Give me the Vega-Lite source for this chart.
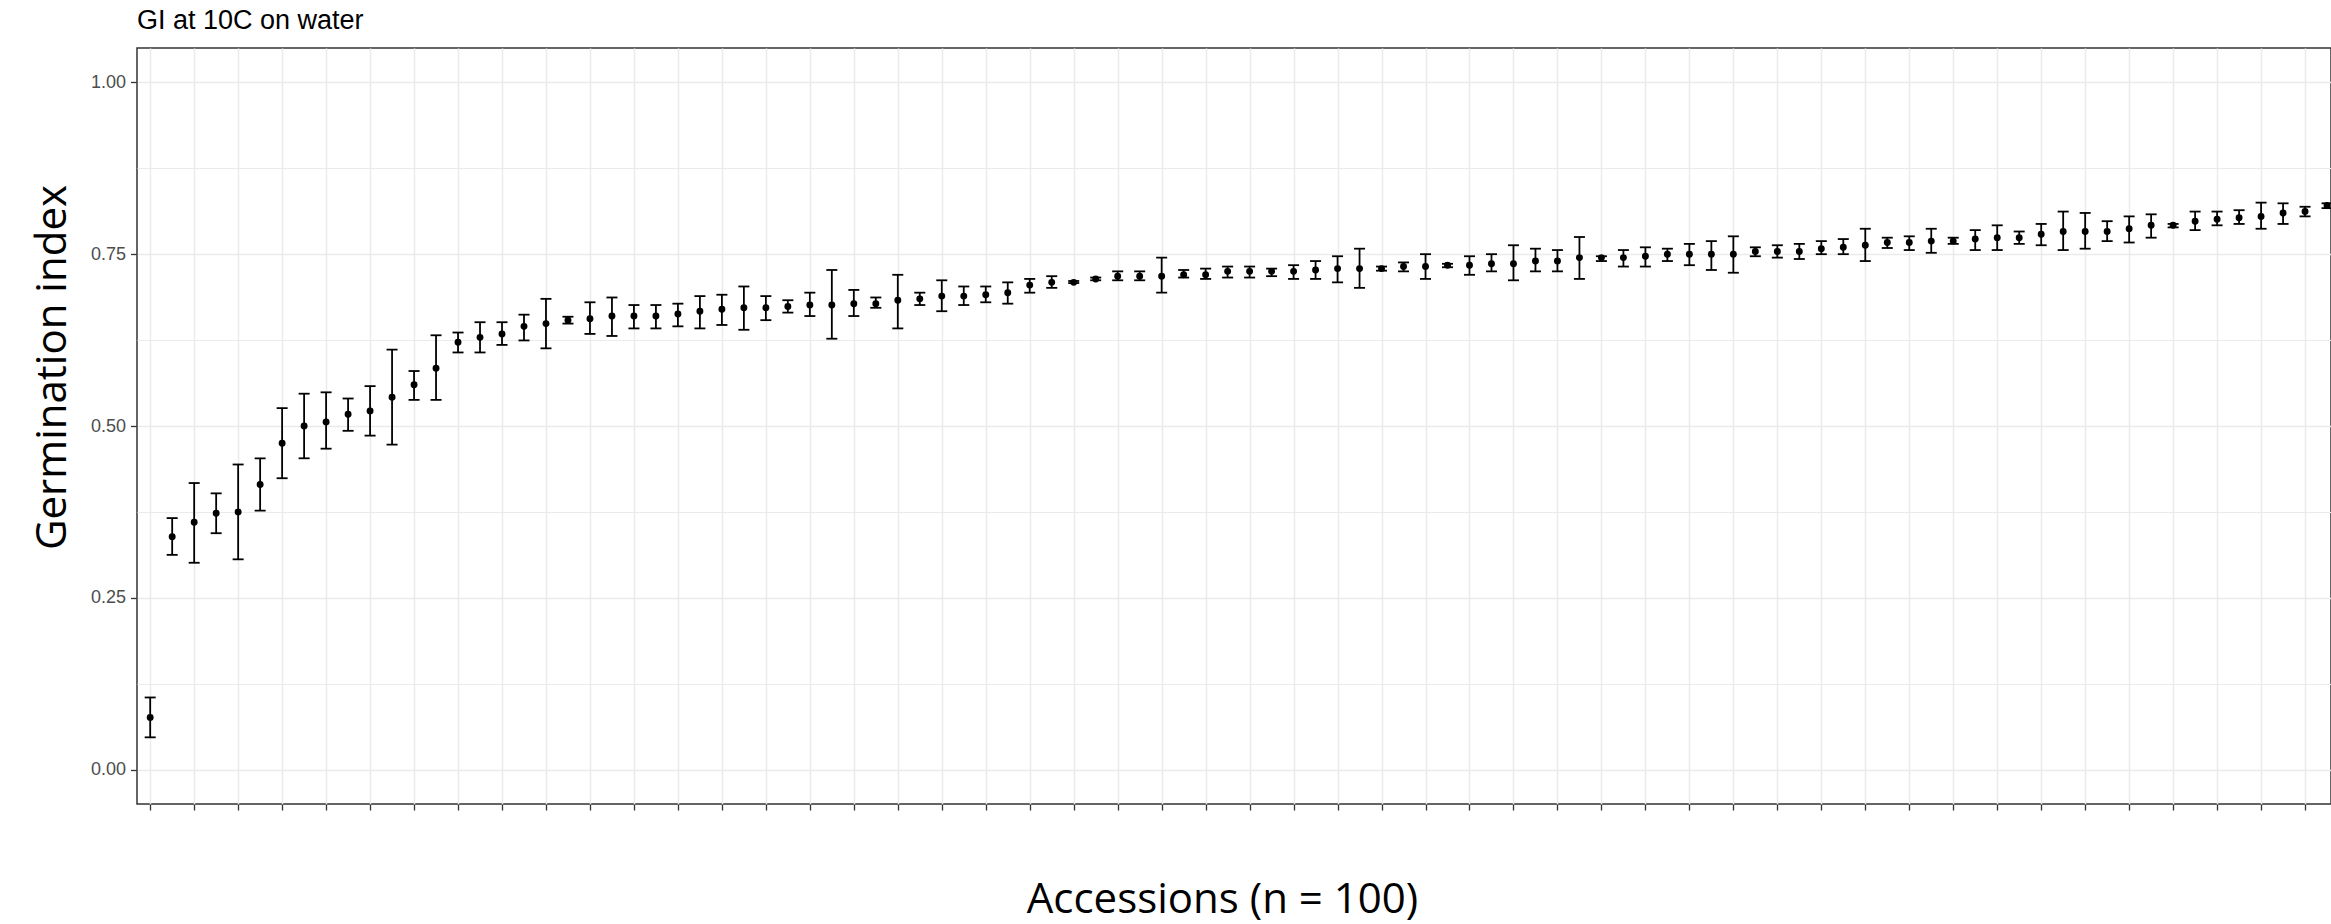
{
  "$schema": "https://vega.github.io/schema/vega-lite/v6.json",
  "width": 2194,
  "height": 756,
  "autosize": {"type": "none"},
  "padding": {"left": 137, "top": 48, "right": 0, "bottom": 120},
  "background": "white",
  "title": {"text": "GI at 10C on water", "anchor": "start", "frame": "group", "font": "Liberation Sans", "fontSize": 27, "fontWeight": "normal", "color": "#000000", "offset": 13},
  "config": {"view": {"stroke": "#333333", "strokeWidth": 1.5}},
  "data": {"values": [
    {"rank": 1, "gi": 0.076, "lo": 0.047, "hi": 0.105},
    {"rank": 2, "gi": 0.339, "lo": 0.3125, "hi": 0.366},
    {"rank": 3, "gi": 0.360, "lo": 0.301, "hi": 0.417},
    {"rank": 4, "gi": 0.373, "lo": 0.344, "hi": 0.402},
    {"rank": 5, "gi": 0.375, "lo": 0.306, "hi": 0.444},
    {"rank": 6, "gi": 0.415, "lo": 0.377, "hi": 0.453},
    {"rank": 7, "gi": 0.475, "lo": 0.424, "hi": 0.526},
    {"rank": 8, "gi": 0.500, "lo": 0.453, "hi": 0.547},
    {"rank": 9, "gi": 0.506, "lo": 0.467, "hi": 0.549},
    {"rank": 10, "gi": 0.517, "lo": 0.493, "hi": 0.540},
    {"rank": 11, "gi": 0.522, "lo": 0.486, "hi": 0.558},
    {"rank": 12, "gi": 0.542, "lo": 0.473, "hi": 0.611},
    {"rank": 13, "gi": 0.560, "lo": 0.538, "hi": 0.580},
    {"rank": 14, "gi": 0.584, "lo": 0.538, "hi": 0.632},
    {"rank": 15, "gi": 0.622, "lo": 0.607, "hi": 0.636},
    {"rank": 16, "gi": 0.629, "lo": 0.607, "hi": 0.651},
    {"rank": 17, "gi": 0.634, "lo": 0.618, "hi": 0.651},
    {"rank": 18, "gi": 0.645, "lo": 0.6245, "hi": 0.662},
    {"rank": 19, "gi": 0.649, "lo": 0.613, "hi": 0.685},
    {"rank": 20, "gi": 0.654, "lo": 0.649, "hi": 0.659},
    {"rank": 21, "gi": 0.656, "lo": 0.634, "hi": 0.680},
    {"rank": 22, "gi": 0.660, "lo": 0.631, "hi": 0.687},
    {"rank": 23, "gi": 0.660, "lo": 0.642, "hi": 0.676},
    {"rank": 24, "gi": 0.660, "lo": 0.642, "hi": 0.676},
    {"rank": 25, "gi": 0.663, "lo": 0.645, "hi": 0.678},
    {"rank": 26, "gi": 0.667, "lo": 0.642, "hi": 0.689},
    {"rank": 27, "gi": 0.670, "lo": 0.647, "hi": 0.691},
    {"rank": 28, "gi": 0.672, "lo": 0.640, "hi": 0.703},
    {"rank": 29, "gi": 0.672, "lo": 0.654, "hi": 0.689},
    {"rank": 30, "gi": 0.674, "lo": 0.665, "hi": 0.683},
    {"rank": 31, "gi": 0.676, "lo": 0.660, "hi": 0.694},
    {"rank": 32, "gi": 0.676, "lo": 0.627, "hi": 0.727},
    {"rank": 33, "gi": 0.678, "lo": 0.660, "hi": 0.698},
    {"rank": 34, "gi": 0.678, "lo": 0.672, "hi": 0.687},
    {"rank": 35, "gi": 0.683, "lo": 0.642, "hi": 0.720},
    {"rank": 36, "gi": 0.685, "lo": 0.676, "hi": 0.694},
    {"rank": 37, "gi": 0.689, "lo": 0.667, "hi": 0.712},
    {"rank": 38, "gi": 0.689, "lo": 0.676, "hi": 0.703},
    {"rank": 39, "gi": 0.691, "lo": 0.680, "hi": 0.703},
    {"rank": 40, "gi": 0.694, "lo": 0.678, "hi": 0.709},
    {"rank": 41, "gi": 0.705, "lo": 0.694, "hi": 0.714},
    {"rank": 42, "gi": 0.709, "lo": 0.701, "hi": 0.718},
    {"rank": 43, "gi": 0.709, "lo": 0.708, "hi": 0.711},
    {"rank": 44, "gi": 0.714, "lo": 0.712, "hi": 0.716},
    {"rank": 45, "gi": 0.718, "lo": 0.712, "hi": 0.725},
    {"rank": 46, "gi": 0.718, "lo": 0.712, "hi": 0.725},
    {"rank": 47, "gi": 0.718, "lo": 0.694, "hi": 0.745},
    {"rank": 48, "gi": 0.720, "lo": 0.716, "hi": 0.727},
    {"rank": 49, "gi": 0.720, "lo": 0.714, "hi": 0.729},
    {"rank": 50, "gi": 0.725, "lo": 0.716, "hi": 0.732},
    {"rank": 51, "gi": 0.725, "lo": 0.716, "hi": 0.732},
    {"rank": 52, "gi": 0.725, "lo": 0.718, "hi": 0.729},
    {"rank": 53, "gi": 0.725, "lo": 0.714, "hi": 0.734},
    {"rank": 54, "gi": 0.727, "lo": 0.714, "hi": 0.740},
    {"rank": 55, "gi": 0.729, "lo": 0.709, "hi": 0.747},
    {"rank": 56, "gi": 0.729, "lo": 0.701, "hi": 0.758},
    {"rank": 57, "gi": 0.729, "lo": 0.726, "hi": 0.732},
    {"rank": 58, "gi": 0.732, "lo": 0.725, "hi": 0.738},
    {"rank": 59, "gi": 0.732, "lo": 0.714, "hi": 0.750},
    {"rank": 60, "gi": 0.734, "lo": 0.731, "hi": 0.736},
    {"rank": 61, "gi": 0.734, "lo": 0.720, "hi": 0.747},
    {"rank": 62, "gi": 0.736, "lo": 0.725, "hi": 0.750},
    {"rank": 63, "gi": 0.736, "lo": 0.712, "hi": 0.763},
    {"rank": 64, "gi": 0.740, "lo": 0.725, "hi": 0.758},
    {"rank": 65, "gi": 0.740, "lo": 0.725, "hi": 0.756},
    {"rank": 66, "gi": 0.745, "lo": 0.714, "hi": 0.775},
    {"rank": 67, "gi": 0.745, "lo": 0.740, "hi": 0.747},
    {"rank": 68, "gi": 0.745, "lo": 0.732, "hi": 0.756},
    {"rank": 69, "gi": 0.747, "lo": 0.732, "hi": 0.760},
    {"rank": 70, "gi": 0.750, "lo": 0.740, "hi": 0.758},
    {"rank": 71, "gi": 0.750, "lo": 0.734, "hi": 0.765},
    {"rank": 72, "gi": 0.750, "lo": 0.727, "hi": 0.769},
    {"rank": 73, "gi": 0.750, "lo": 0.723, "hi": 0.776},
    {"rank": 74, "gi": 0.754, "lo": 0.747, "hi": 0.760},
    {"rank": 75, "gi": 0.754, "lo": 0.745, "hi": 0.763},
    {"rank": 76, "gi": 0.754, "lo": 0.743, "hi": 0.765},
    {"rank": 77, "gi": 0.758, "lo": 0.750, "hi": 0.769},
    {"rank": 78, "gi": 0.760, "lo": 0.750, "hi": 0.772},
    {"rank": 79, "gi": 0.763, "lo": 0.740, "hi": 0.787},
    {"rank": 80, "gi": 0.767, "lo": 0.759, "hi": 0.774},
    {"rank": 81, "gi": 0.767, "lo": 0.756, "hi": 0.776},
    {"rank": 82, "gi": 0.769, "lo": 0.752, "hi": 0.787},
    {"rank": 83, "gi": 0.769, "lo": 0.765, "hi": 0.774},
    {"rank": 84, "gi": 0.772, "lo": 0.756, "hi": 0.785},
    {"rank": 85, "gi": 0.774, "lo": 0.756, "hi": 0.792},
    {"rank": 86, "gi": 0.774, "lo": 0.765, "hi": 0.783},
    {"rank": 87, "gi": 0.779, "lo": 0.763, "hi": 0.794},
    {"rank": 88, "gi": 0.783, "lo": 0.756, "hi": 0.812},
    {"rank": 89, "gi": 0.783, "lo": 0.758, "hi": 0.810},
    {"rank": 90, "gi": 0.783, "lo": 0.769, "hi": 0.798},
    {"rank": 91, "gi": 0.787, "lo": 0.767, "hi": 0.805},
    {"rank": 92, "gi": 0.792, "lo": 0.774, "hi": 0.808},
    {"rank": 93, "gi": 0.792, "lo": 0.789, "hi": 0.794},
    {"rank": 94, "gi": 0.798, "lo": 0.785, "hi": 0.812},
    {"rank": 95, "gi": 0.801, "lo": 0.792, "hi": 0.812},
    {"rank": 96, "gi": 0.803, "lo": 0.794, "hi": 0.814},
    {"rank": 97, "gi": 0.805, "lo": 0.787, "hi": 0.825},
    {"rank": 98, "gi": 0.810, "lo": 0.794, "hi": 0.824},
    {"rank": 99, "gi": 0.812, "lo": 0.805, "hi": 0.819},
    {"rank": 100, "gi": 0.821, "lo": 0.817, "hi": 0.824}
  ]},
  "layer": [
    {
      "mark": {"type": "rule", "color": "#000000", "strokeWidth": 1.8},
      "encoding": {
        "x": {
          "field": "rank", "type": "quantitative",
          "scale": {"domain": [0.4, 100.18], "nice": false, "zero": false},
          "axis": {
            "values": [1,2,3,4,5,6,7,8,9,10,11,12,13,14,15,16,17,18,19,20,21,22,23,24,25,26,27,28,29,30,31,32,33,34,35,36,37,38,39,40,41,42,43,44,45,46,47,48,49,50,51,52,53,54,55,56,57,58,59,60,61,62,63,64,65,66,67,68,69,70,71,72,73,74,75,76,77,78,79,80,81,82,83,84,85,86,87,88,89,90,91,92,93,94,95,96,97,98,99,100],
            "labels": false, "domain": false,
            "grid": true, "gridColor": "#EBEBEB", "gridWidth": 1.5,
            "ticks": true, "tickColor": "#333333", "tickSize": 6, "tickWidth": 1.3,
            "title": "Accessions (n = 100)",
            "titleFont": "Open Sans", "titleFontSize": 42, "titleFontWeight": "normal", "titleColor": "#000000",
            "titleX": 1085, "titleY": 95, "titleAlign": "center", "titleBaseline": "middle"
          }
        },
        "y": {
          "field": "lo", "type": "quantitative",
          "scale": {"domain": [-0.05, 1.05], "nice": false, "zero": false},
          "axis": {
            "values": [0, 0.125, 0.25, 0.375, 0.5, 0.625, 0.75, 0.875, 1],
            "labelExpr": "datum.value % 0.25 === 0 ? format(datum.value, '.2f') : ''",
            "labelFont": "Liberation Sans", "labelFontSize": 18, "labelColor": "#4D4D4D", "labelPadding": 5,
            "domain": false,
            "grid": true, "gridColor": "#EBEBEB",
            "gridWidth": {"condition": {"test": "datum.value % 0.25 === 0", "value": 1.5}, "value": 1.1},
            "ticks": true, "tickColor": "#333333", "tickSize": 6.5, "tickWidth": 1.3,
            "tickOpacity": {"condition": {"test": "datum.value % 0.25 === 0", "value": 1}, "value": 0},
            "title": "Germination index",
            "titleFont": "Open Sans", "titleFontSize": 42, "titleFontWeight": "normal", "titleColor": "#000000",
            "titleX": -85, "titleY": 319, "titleAngle": -90, "titleAlign": "center", "titleBaseline": "middle"
          }
        },
        "y2": {"field": "hi"}
      }
    },
    {
      "mark": {"type": "tick", "orient": "horizontal", "size": 11, "thickness": 1.8, "color": "#000000", "opacity": 1},
      "encoding": {
        "x": {"field": "rank", "type": "quantitative"},
        "y": {"field": "lo", "type": "quantitative"}
      }
    },
    {
      "mark": {"type": "tick", "orient": "horizontal", "size": 11, "thickness": 1.8, "color": "#000000", "opacity": 1},
      "encoding": {
        "x": {"field": "rank", "type": "quantitative"},
        "y": {"field": "hi", "type": "quantitative"}
      }
    },
    {
      "mark": {"type": "point", "filled": true, "size": 48, "color": "#000000", "opacity": 1},
      "encoding": {
        "x": {"field": "rank", "type": "quantitative"},
        "y": {"field": "gi", "type": "quantitative"}
      }
    }
  ]
}
